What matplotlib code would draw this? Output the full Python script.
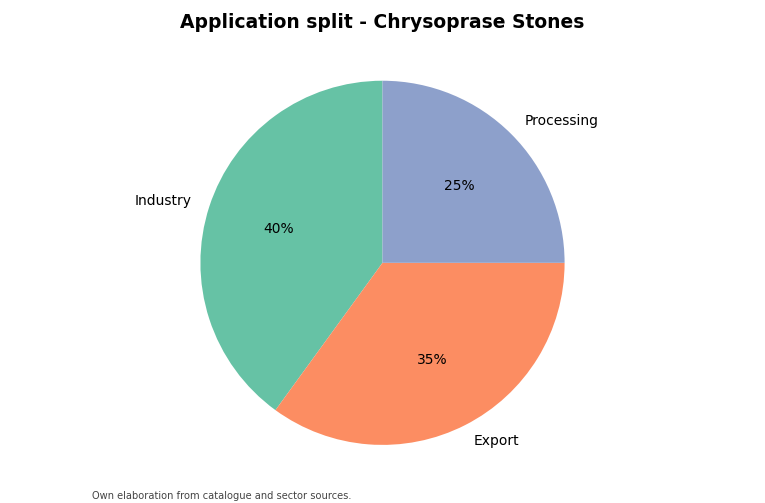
import matplotlib.pyplot as plt

labels = ["Industry", "Export", "Processing"]
shares = [40, 35, 25]
colors = ["#66c2a5", "#fc8d62", "#8da0cb"]

fig = plt.figure(figsize=(7.65, 5.03), dpi=100)
ax = fig.add_axes([0.0, 0.025, 1.0, 0.905])

ax.pie(shares, labels=labels, colors=colors, autopct="%1.0f%%",
       startangle=90, textprops={"fontsize": 10})
ax.set_aspect("equal")

fig.suptitle("Application split - Chrysoprase Stones", fontsize=13.5,
             fontweight="bold", y=0.975)
fig.text(0.12, 0.008, "Own elaboration from catalogue and sector sources.",
         fontsize=7.1, color="#444444")

fig.savefig("out.png", dpi=100)
